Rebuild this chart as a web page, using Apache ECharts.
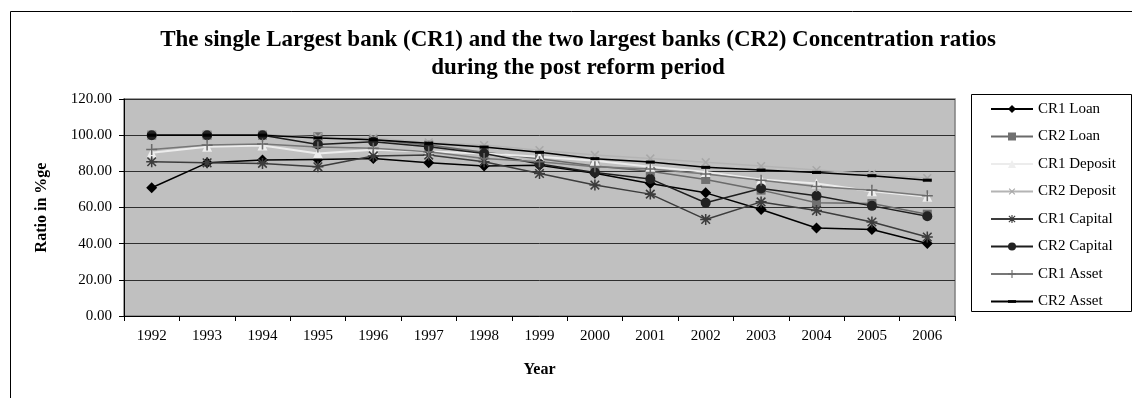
<!DOCTYPE html>
<html>
<head>
<meta charset="utf-8">
<script src="https://cdn.jsdelivr.net/npm/echarts@6/dist/echarts.min.js"></script>
<style>
  html, body { margin: 0; padding: 0; background: #fff; }
  #chart { width: 1132px; height: 398px; }
</style>
</head>
<body>
<div id="chart"></div>
<script>
// Concentration ratios (in %) of the largest bank (CR1) and the two largest banks (CR2)
const years = ['1992','1993','1994','1995','1996','1997','1998','1999','2000','2001','2002','2003','2004','2005','2006'];
const yTicks = [0, 20, 40, 60, 80, 100, 120];

const cr1Loan     = [70.9, 84.7, 86.2, 86.6, 87.1, 84.7, 82.9, 83.4, 79.0, 73.3, 68.1, 58.9, 48.7, 47.8, 40.1];
const cr2Loan     = [100.0, 100.0, 100.0, 99.1, 97.5, 94.5, 90.5, 87.0, 83.0, 80.0, 75.5, 69.6, 62.6, 62.2, 56.3];
const cr1Deposit  = [90.3, 93.6, 94.3, 89.9, 92.0, 91.0, 89.9, 88.0, 85.8, 82.5, 79.7, 75.5, 73.3, 69.0, 65.9];
const cr2Deposit  = [100.0, 100.0, 100.0, 99.0, 98.5, 96.0, 94.5, 91.7, 89.0, 87.1, 85.0, 82.9, 80.7, 78.6, 76.2];
const cr1Capital  = [85.3, 84.7, 84.4, 82.5, 88.5, 89.0, 85.3, 78.8, 72.4, 67.4, 53.4, 63.1, 58.3, 52.0, 43.7];
const cr2Capital  = [100.0, 100.0, 100.0, 94.9, 96.4, 93.6, 89.9, 84.0, 79.4, 75.8, 62.6, 70.5, 66.5, 60.9, 55.2];
const cr1Asset    = [92.1, 94.5, 95.1, 93.5, 92.7, 90.8, 87.1, 85.3, 82.5, 81.3, 78.5, 75.1, 71.6, 69.6, 66.5];
const cr2Asset    = [100.0, 100.0, 100.0, 98.5, 97.5, 95.5, 93.4, 90.5, 87.0, 85.1, 82.2, 80.7, 79.4, 77.6, 75.1];

// Marker shapes (each drawn inside a 10x10 box)
const plusPath = 'path://M4.3,0H5.7V4.3H10V5.7H5.7V10H4.3V5.7H0V4.3H4.3Z';
const starPath = 'path://M4.3,0H5.7V4.3H10V5.7H5.7V10H4.3V5.7H0V4.3H4.3Z' +
                 'M0.6,1.6L1.6,0.6L9.4,8.4L8.4,9.4Z' +
                 'M8.4,0.6L9.4,1.6L1.6,9.4L0.6,8.4Z';
// short horizontal dash centred in the box; the two empty segments fix the box corners
const dashPath = 'path://M0,3.3H10V6.7H0Z M0,0L0,0 M10,10L10,10';

const serif = '"Liberation Serif", "Times New Roman", serif';

function mkSeries(name, data, lineColor, markColor, symbol, size, extra) {
  return Object.assign({
    name: name,
    type: 'line',
    data: data,
    symbol: symbol,
    symbolSize: size,
    showAllSymbol: true,
    lineStyle: { color: lineColor, width: 1.5 },
    itemStyle: { color: markColor, borderWidth: 0 },
    emphasis: { disabled: true },
    animation: false,
    z: 3
  }, extra || {});
}

const series = [
  mkSeries('CR1 Loan',    cr1Loan,    '#000000', '#000000', 'diamond', 11),
  mkSeries('CR2 Loan',    cr2Loan,    '#6a6a6a', '#707070', 'rect', 9),
  mkSeries('CR1 Deposit', cr1Deposit, '#ececec', '#eeeeee', 'triangle', 10, { lineStyle: { color: '#ececec', width: 2 } }),
  mkSeries('CR2 Deposit', cr2Deposit, '#b4b4b4', '#a8a8a8', plusPath, 11, { symbolRotate: 45 }),
  mkSeries('CR1 Capital', cr1Capital, '#3c3c3c', '#3c3c3c', starPath, 11),
  mkSeries('CR2 Capital', cr2Capital, '#1e1e1e', '#222222', 'circle', 10),
  mkSeries('CR1 Asset',   cr1Asset,   '#777777', '#6a6a6a', plusPath, 11),
  mkSeries('CR2 Asset',   cr2Asset,   '#000000', '#000000', dashPath, 9)
];

const chart = echarts.init(document.getElementById('chart'), null, { renderer: 'canvas' });

chart.setOption({
  animation: false,
  backgroundColor: '#ffffff',
  title: {
    text: 'The single Largest bank (CR1) and the two largest banks (CR2) Concentration ratios\nduring the post reform period',
    left: 573,
    textAlign: 'center',
    top: 21,
    textStyle: {
      fontFamily: serif,
      fontWeight: 'bold',
      fontSize: 23,
      lineHeight: 28,
      color: '#000'
    }
  },
  grid: {
    left: 124,
    top: 99,
    width: 831,
    height: 217,
    show: true,
    backgroundColor: '#c0c0c0',
    borderColor: '#808080',
    borderWidth: 1.5
  },
  legend: {
    orient: 'vertical',
    left: 990,
    top: 101,
    itemWidth: 42,
    itemHeight: 10,
    itemGap: 11.5,
    padding: 0,
    selectedMode: false,
    textStyle: { fontFamily: serif, fontSize: 15, lineHeight: 16, color: '#000' },
    data: series.map(s => s.name)
  },
  xAxis: {
    type: 'category',
    data: years,
    boundaryGap: true,
    axisLine: { lineStyle: { color: '#000', width: 1 } },
    axisTick: { show: true, length: 5, lineStyle: { color: '#000' } },
    axisLabel: { fontFamily: serif, fontSize: 15, color: '#000', margin: 13 },
    name: 'Year',
    nameLocation: 'middle',
    nameGap: 46,
    nameTextStyle: { fontFamily: serif, fontSize: 16, fontWeight: 'bold', color: '#000' }
  },
  yAxis: {
    type: 'value',
    min: yTicks[0],
    max: yTicks[yTicks.length - 1],
    interval: 20,
    axisLine: { show: true, lineStyle: { color: '#000', width: 1 } },
    axisTick: { show: true, length: 5, lineStyle: { color: '#000' } },
    axisLabel: {
      fontFamily: serif, fontSize: 15, color: '#000', margin: 12,
      formatter: v => v.toFixed(2)
    },
    splitLine: { show: true, lineStyle: { color: '#2e2e2e', width: 1 } },
    name: 'Ratio in %ge',
    nameLocation: 'middle',
    nameGap: 74,
    nameRotate: 90,
    nameTextStyle: { fontFamily: serif, fontSize: 16, fontWeight: 'bold', color: '#000' }
  },
  graphic: [
    // outer chart frame
    {
      type: 'rect', left: 8, top: 9, silent: true, z: -10,
      shape: { x: 0.5, y: 0.5, width: 1300, height: 600 },
      style: { fill: 'none', stroke: '#000', lineWidth: 1 }
    },
    // legend frame
    {
      type: 'rect', left: 971, top: 94, silent: true, z: 0,
      shape: { x: 0.5, y: 0.5, width: 160, height: 217 },
      style: { fill: '#fff', stroke: '#000', lineWidth: 1 }
    }
  ],
  series: series
});
</script>
</body>
</html>
